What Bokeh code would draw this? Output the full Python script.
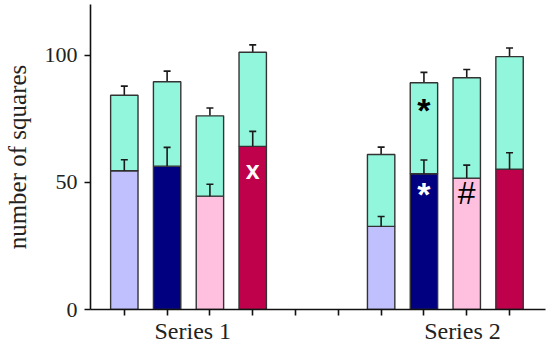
from bokeh.plotting import figure
from bokeh.models import Range1d, FixedTicker, Label
from bokeh.embed import file_html
from bokeh.resources import INLINE
import numpy as np

# ---- data ----
series_names = ["Series 1", "Series 2"]
bar_colors = ["#C0C0FF", "#000080", "#FFC0E0", "#BF004B"]
top_color = "#92F6DD"

s1_bottom = [54.6, 56.4, 44.6, 64.2]
s1_bottom_err = [4.3, 7.4, 4.7, 5.9]
s1_total = [84.3, 89.6, 76.2, 101.2]
s1_total_err = [3.6, 4.2, 3.1, 2.9]

s2_bottom = [32.7, 53.4, 51.7, 55.2]
s2_bottom_err = [3.9, 5.4, 5.1, 6.5]
s2_total = [61.0, 89.2, 91.2, 99.5]
s2_total_err = [2.9, 4.1, 3.2, 3.4]

y_ticks = [0, 50, 100]

# significance marks: (series index, bar index, y, text, colour, size, style)
marks = [
    (0, 3, 55.0, "x", "white", "25px", "bold"),
    (1, 1, 78.5, "*", "black", "34px", "bold"),
    (1, 1, 45.5, "*", "white", "34px", "bold"),
    (1, 2, 46.0, "#", "black", "32px", "normal"),
]

group_start = [0, 6]
n_slots = 10
series_label_x = [1.6, 7.9]

p = figure(width=550, height=347, output_backend="svg", toolbar_location=None,
           x_range=Range1d(-0.79, 9.84), y_range=Range1d(0, 120),
           min_border_left=88, min_border_bottom=38, min_border_top=4, min_border_right=5)
p.outline_line_color = None
p.grid.visible = False

bottoms = [s1_bottom, s2_bottom]
bottom_errs = [s1_bottom_err, s2_bottom_err]
totals = [s1_total, s2_total]
total_errs = [s1_total_err, s2_total_err]

bw = 0.64
for g in range(2):
    xs = np.arange(4) + group_start[g]
    b = np.array(bottoms[g]); t = np.array(totals[g])
    be = np.array(bottom_errs[g]); te = np.array(total_errs[g])
    p.segment(x0=xs, y0=t, x1=xs, y1=t + te, line_color="#1a1a1a", line_width=1.6)
    p.scatter(x=xs, y=t + te, marker="dash", size=7, line_color="#1a1a1a", line_width=1.6)
    p.vbar(x=xs, bottom=0, top=b, width=bw, fill_color=bar_colors,
           line_color="#333333", line_width=1.4)
    p.vbar(x=xs, bottom=b, top=t, width=bw, fill_color=top_color,
           line_color="#333333", line_width=1.4)
    p.segment(x0=xs, y0=b, x1=xs, y1=b + be, line_color="#1a1a1a", line_width=1.6)
    p.scatter(x=xs, y=b + be, marker="dash", size=7, line_color="#1a1a1a", line_width=1.6)

for g, i, yv, txt, col, fs, st in marks:
    p.add_layout(Label(x=group_start[g] + i, y=yv, text=txt, text_color=col,
                       text_align="center", text_baseline="middle",
                       text_font="Liberation Sans", text_font_style=st,
                       text_font_size=fs))

# axes
p.yaxis.ticker = FixedTicker(ticks=y_ticks)
p.yaxis.axis_label = "number of squares"
p.yaxis.axis_label_text_font = "Liberation Serif"
p.yaxis.axis_label_text_font_style = "normal"
p.yaxis.axis_label_text_font_size = "25px"
p.yaxis.axis_label_text_color = "#222222"
p.yaxis.axis_label_standoff = 11
p.yaxis.major_label_text_font = "Liberation Serif"
p.yaxis.major_label_text_font_size = "22px"
p.yaxis.major_label_text_color = "#222222"
p.yaxis.major_tick_out = 6
p.yaxis.major_tick_in = 0
p.yaxis.minor_tick_out = 0
p.yaxis.minor_tick_in = 0
p.yaxis.major_label_standoff = 7

# x axis: tick marks at every slot (minor ticks), labels at series centres
p.xaxis.ticker = FixedTicker(ticks=series_label_x, minor_ticks=list(range(n_slots)))
p.xaxis.major_label_overrides = {lx: name for lx, name in zip(series_label_x, series_names)}
p.xaxis.major_label_text_font = "Liberation Serif"
p.xaxis.major_label_text_font_size = "24px"
p.xaxis.major_label_text_color = "#222222"
p.xaxis.major_label_standoff = 2
p.xaxis.major_tick_out = 0
p.xaxis.major_tick_in = 0
p.xaxis.minor_tick_out = 6
p.xaxis.minor_tick_in = 0
p.xaxis.minor_tick_line_color = "#111111"
p.xaxis.minor_tick_line_width = 1.6

for ax in (p.xaxis, p.yaxis):
    ax.axis_line_color = "#111111"
    ax.axis_line_width = 1.6
    ax.major_tick_line_color = "#111111"
    ax.major_tick_line_width = 1.6

open("out.html", "w").write(file_html(p, INLINE))
